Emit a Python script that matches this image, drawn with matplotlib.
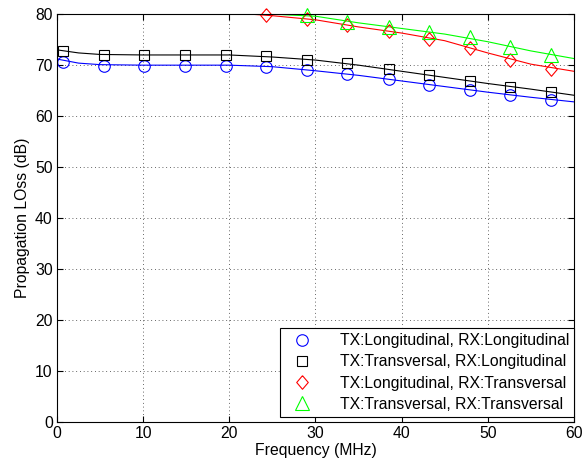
import matplotlib
matplotlib.use("Agg")
import matplotlib.pyplot as plt

plt.rcParams['font.family'] = ['Liberation Sans', 'DejaVu Sans']

# marker positions (MHz)
mx = [0.7, 5.4, 10.1, 14.9, 19.6, 24.3, 29.0, 33.7, 38.5, 43.2, 47.9, 52.6, 57.4]
mx_lt = [24.3, 29.0, 33.7, 38.5, 43.2, 47.9, 52.6, 57.4]
mx_tt = [29.0, 33.7, 38.5, 43.2, 47.9, 52.6, 57.4]

ll_markers = [70.7, 69.9, 69.9, 69.9, 69.9, 69.6, 69.0, 68.3, 67.2, 66.1, 65.1, 64.1, 63.2]
tl_markers = [72.8, 72.0, 71.9, 72.0, 72.0, 71.7, 71.1, 70.4, 69.2, 68.0, 66.9, 65.7, 64.7]
lt_markers = [79.8, 79.1, 77.8, 76.7, 75.2, 73.4, 71.1, 69.3]
tt_markers = [79.8, 78.5, 77.5, 76.5, 75.5, 73.6, 72.0]

# curve samples (MHz, dB)
cx = [0, 2.5, 5, 10, 15, 20, 25, 30, 35, 40, 45, 50, 55, 60]
ll_curve = [71.2, 70.4, 70.1, 70.0, 70.0, 70.0, 69.7, 68.9, 68.0, 66.9, 65.8, 64.7, 63.7, 62.8]
tl_curve = [73.0, 72.4, 72.1, 72.0, 72.0, 72.0, 71.6, 71.0, 70.0, 68.8, 67.6, 66.4, 65.3, 64.1]
cx_lt = [22.5, 25, 30, 35, 40, 45, 50, 55, 60]
lt_curve = [80.0, 79.7, 78.9, 77.5, 76.3, 74.8, 72.4, 70.2, 68.8]
cx_tt = [25.0, 30, 35, 40, 45, 50, 55, 60]
tt_curve = [80.0, 79.6, 78.3, 77.2, 76.1, 74.6, 72.8, 71.3]

labels = ['TX:Longitudinal, RX:Longitudinal',
          'TX:Transversal, RX:Longitudinal',
          'TX:Longitudinal, RX:Transversal',
          'TX:Transversal, RX:Transversal']

fig = plt.figure(figsize=(5.82, 4.65), dpi=100)
ax = fig.add_axes([0.098, 0.0925, 0.888, 0.877])

diamond = [(0, 1), (0.85, 0), (0, -1), (-0.85, 0), (0, 1)]

ax.plot(cx, ll_curve, color='#0000ff', lw=0.8)
ax.plot(cx, tl_curve, color='#000000', lw=0.8)
ax.plot(cx_lt, lt_curve, color='#ff0000', lw=0.8)
ax.plot(cx_tt, tt_curve, color='#00ff00', lw=0.8)

ax.plot(mx, ll_markers, linestyle='none', marker='o', ms=8.3, mfc='none',
        mec='#0000ff', mew=0.8, label=labels[0], clip_on=False)
ax.plot(mx, tl_markers, linestyle='none', marker='s', ms=7.3, mfc='none',
        mec='#000000', mew=0.8, label=labels[1], clip_on=False)
ax.plot(mx_lt, lt_markers, linestyle='none', marker=diamond, ms=9.8, mfc='none',
        mec='#ff0000', mew=0.8, label=labels[2], clip_on=False)
ax.plot(mx_tt, tt_markers, linestyle='none', marker='^', ms=9.5, mfc='none',
        mec='#00ff00', mew=0.8, label=labels[3], clip_on=False)

ax.set_xlim(0, 60)
ax.set_ylim(0, 80)
ax.set_xticks(range(0, 61, 10))
ax.set_yticks(range(0, 81, 10))
ax.grid(True, linestyle=(0, (1, 3.5)), color='#333333', linewidth=0.6)
ax.tick_params(direction='in', length=4, width=0.8, labelsize=11.3, top=True, right=True, pad=3)
for s in ax.spines.values():
    s.set_linewidth(0.8)

ax.set_xlabel('Frequency (MHz)', fontsize=11.3, labelpad=1)
ax.set_ylabel('Propagation LOss (dB)', fontsize=11.3, labelpad=4)

leg = ax.legend(loc='lower right', bbox_to_anchor=(1.0, 0.013), fontsize=11.3,
                frameon=True, fancybox=False, edgecolor='black', framealpha=1,
                borderpad=0.3, labelspacing=0.4, handletextpad=1.3,
                handlelength=2.2, borderaxespad=0.0)
leg.get_frame().set_linewidth(0.8)

fig.savefig('out.png', dpi=100)
